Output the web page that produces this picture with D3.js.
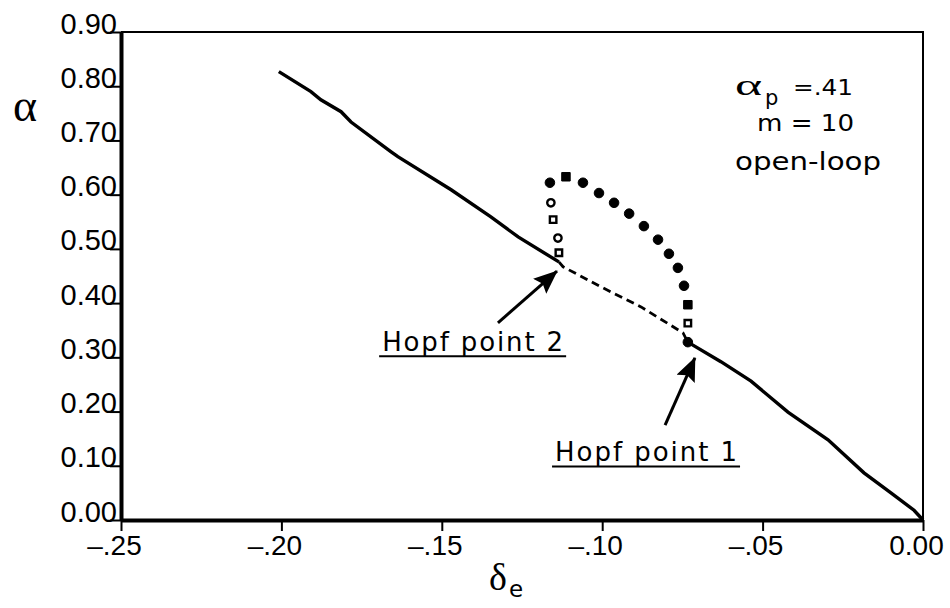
<!DOCTYPE html>
<html>
<head>
<meta charset="utf-8">
<script src="https://cdn.jsdelivr.net/npm/d3@7"></script>
<style>
  body { margin: 0; background: #fff; }
  .tick text { font-family: "Liberation Sans", Arial, sans-serif; fill: #000; }
  .note { font-family: "DejaVu Sans", sans-serif; fill: #000; }
</style>
</head>
<body>
<script>
//chart data
var xTicks = [-0.25, -0.20, -0.15, -0.10, -0.05, 0.00];
var xTickLabels = ["\u2013.25", "\u2013.20", "\u2013.15", "\u2013.10", "\u2013.05", "0.00"];
var yTicks = [0, 0.1, 0.2, 0.3, 0.4, 0.5, 0.6, 0.7, 0.8, 0.9];
var yTickLabels = ["0.00", "0.10", "0.20", "0.30", "0.40", "0.50", "0.60", "0.70", "0.80", "0.90"];

//stable equilibrium branch, left of Hopf point 2
var stableLeftX = [-0.2008, -0.1908, -0.1877, -0.1814, -0.1783, -0.1658, -0.1637, -0.1471, -0.1347, -0.1262, -0.1135];
var stableLeftY = [0.827, 0.790, 0.775, 0.753, 0.734, 0.679, 0.670, 0.609, 0.559, 0.522, 0.476];

//unstable equilibrium branch between the Hopf points
var unstableX = [-0.1135, -0.1122, -0.1004, -0.0879, -0.0748, -0.0733];
var unstableY = [0.476, 0.467, 0.430, 0.393, 0.345, 0.328];

//stable equilibrium branch, right of Hopf point 1
var stableRightX = [-0.0733, -0.0630, -0.0536, -0.0421, -0.0296, -0.0184, -0.0100, -0.0028, 0.0];
var stableRightY = [0.328, 0.292, 0.256, 0.199, 0.148, 0.087, 0.050, 0.018, 0.0];

//periodic orbit amplitudes (open = unstable, filled = stable)
var orbitX = [-0.1135, -0.1138, -0.1153, -0.1160, -0.1163, -0.1113, -0.1060, -0.1010, -0.0963, -0.0916, -0.0870, -0.0826, -0.0792, -0.0764, -0.0745, -0.0733, -0.0733, -0.0733];
var orbitY = [0.493, 0.520, 0.554, 0.585, 0.622, 0.633, 0.622, 0.603, 0.585, 0.565, 0.542, 0.517, 0.491, 0.465, 0.432, 0.397, 0.363, 0.328];
var orbitFilled = [false, false, false, false, true, true, true, true, true, true, true, true, true, true, true, true, false, true];
var orbitShape = ["s", "c", "s", "c", "c", "s", "c", "c", "c", "c", "c", "c", "c", "c", "c", "s", "s", "c"];

var width = 950, height = 608;
var x = d3.scaleLinear().domain([-0.25, 0]).range([121, 923]);
var y = d3.scaleLinear().domain([0, 0.9]).range([520, 32]);

var svg = d3.select("body").append("svg")
  .attr("width", width)
  .attr("height", height);

//arrowhead marker
svg.append("defs").append("marker")
  .attr("id", "head")
  .attr("markerUnits", "userSpaceOnUse")
  .attr("viewBox", "0 0 24 20")
  .attr("refX", 23)
  .attr("refY", 10)
  .attr("markerWidth", 24)
  .attr("markerHeight", 20)
  .attr("orient", "auto")
  .append("path")
  .attr("d", "M0,0 L24,10 L0,20 L4,10 Z")
  .attr("fill", "#000");

//thin top and right frame
svg.append("path")
  .attr("d", "M" + x(-0.25) + "," + y(0.9) + "H" + x(0) + "V" + y(0))
  .attr("fill", "none")
  .attr("stroke", "#000")
  .attr("stroke-width", 2);

//axes
var xAxis = svg.append("g")
  .attr("transform", "translate(0," + y(0) + ")")
  .call(d3.axisBottom(x).tickValues(xTicks).tickSize(11).tickSizeOuter(0)
    .tickFormat(function(d, i) { return xTickLabels[i]; }));
xAxis.select(".domain").attr("stroke-width", 4);
xAxis.selectAll(".tick line").attr("stroke-width", 2);
xAxis.selectAll(".tick text")
  .attr("y", 35).attr("dy", 0).attr("dx", -7)
  .attr("font-size", 28);

var yAxis = svg.append("g")
  .attr("transform", "translate(" + x(-0.25) + ",0)")
  .call(d3.axisLeft(y).tickValues(yTicks).tickSize(11).tickSizeOuter(0)
    .tickFormat(function(d, i) { return yTickLabels[i]; }));
yAxis.select(".domain").attr("stroke-width", 4);
yAxis.selectAll(".tick line").attr("stroke-width", 2);
yAxis.selectAll(".tick text")
  .attr("x", -4).attr("dy", 1)
  .attr("font-size", 29);

//axis titles
svg.append("text")
  .attr("x", 13).attr("y", 121)
  .attr("font-family", "Liberation Serif, serif")
  .attr("font-size", 46)
  .text("\u03b1");

var xt = svg.append("text")
  .attr("x", 489).attr("y", 590)
  .attr("font-family", "Liberation Serif, serif")
  .attr("font-size", 38)
  .text("\u03b4");
xt.append("tspan")
  .attr("dy", 7).attr("dx", 2)
  .attr("font-family", "DejaVu Sans, sans-serif")
  .attr("font-size", 23)
  .text("e");

//equilibrium branches
var line = d3.line()
  .x(function(d) { return x(d[0]); })
  .y(function(d) { return y(d[1]); });

function pairs(xs, ys) {
  return xs.map(function(v, i) { return [v, ys[i]]; });
}

svg.append("path")
  .datum(pairs(stableLeftX, stableLeftY))
  .attr("d", line)
  .attr("fill", "none").attr("stroke", "#000").attr("stroke-width", 3.4);

svg.append("path")
  .datum(pairs(stableRightX, stableRightY))
  .attr("d", line)
  .attr("fill", "none").attr("stroke", "#000").attr("stroke-width", 3.4);

svg.append("path")
  .datum(pairs(unstableX, unstableY))
  .attr("d", line)
  .attr("fill", "none").attr("stroke", "#000").attr("stroke-width", 2.8)
  .attr("stroke-dasharray", "8,5");

//periodic orbit symbols
var orbit = pairs(orbitX, orbitY).map(function(p, i) {
  return { x: p[0], y: p[1], filled: orbitFilled[i], shape: orbitShape[i] };
});

svg.selectAll(".orbit")
  .data(orbit)
  .enter()
  .append("path")
  .attr("class", "orbit")
  .attr("transform", function(d) { return "translate(" + x(d.x) + "," + y(d.y) + ")"; })
  .attr("d", function(d) {
    var size = d.filled ? 72 : 42;
    return d3.symbol().type(d.shape == "s" ? d3.symbolSquare : d3.symbolCircle).size(size)();
  })
  .attr("fill", function(d) { return d.filled ? "#000" : "#fff"; })
  .attr("stroke", "#000")
  .attr("stroke-width", function(d) { return d.filled ? 1 : 2.4; });

//Hopf point arrows
var arrows = [
  { from: [-0.1325, 0.3635], to: [-0.1141, 0.459] },
  { from: [-0.0804, 0.175], to: [-0.0711, 0.299] }
];
svg.selectAll(".arrow")
  .data(arrows)
  .enter()
  .append("line")
  .attr("class", "arrow")
  .attr("x1", function(d) { return x(d.from[0]); })
  .attr("y1", function(d) { return y(d.from[1]); })
  .attr("x2", function(d) { return x(d.to[0]); })
  .attr("y2", function(d) { return y(d.to[1]); })
  .attr("stroke", "#000")
  .attr("stroke-width", 3)
  .attr("marker-end", "url(#head)");

//underlined Hopf labels
var labels = [
  { text: "Hopf  point  2", x: -0.1686, y: 0.311, len: 181 },
  { text: "Hopf  point  1", x: -0.1147, y: 0.108, len: 182 }
];
labels.forEach(function(l) {
  svg.append("text")
    .attr("class", "note")
    .attr("x", x(l.x)).attr("y", y(l.y))
    .attr("font-size", 26)
    .attr("textLength", l.len)
    .attr("lengthAdjust", "spacing")
    .text(l.text);
  svg.append("line")
    .attr("x1", x(l.x) - 3).attr("x2", x(l.x) + l.len + 3)
    .attr("y1", y(l.y) + 5).attr("y2", y(l.y) + 5)
    .attr("stroke", "#000").attr("stroke-width", 2);
});

//parameter box text
svg.append("text")
  .attr("x", 735).attr("y", 95)
  .attr("font-family", "Liberation Serif, serif")
  .attr("font-size", 30)
  .attr("textLength", 27)
  .attr("lengthAdjust", "spacingAndGlyphs")
  .text("\u03b1");
svg.append("text")
  .attr("class", "note")
  .attr("x", 765).attr("y", 105)
  .attr("font-size", 21)
  .text("p");
svg.append("text")
  .attr("class", "note")
  .attr("x", 793).attr("y", 95)
  .attr("font-size", 22)
  .attr("textLength", 60)
  .attr("lengthAdjust", "spacingAndGlyphs")
  .text("=.41");

svg.append("text")
  .attr("class", "note")
  .attr("x", 757).attr("y", 131)
  .attr("font-size", 23)
  .attr("textLength", 97)
  .attr("lengthAdjust", "spacingAndGlyphs")
  .text("m = 10");

svg.append("text")
  .attr("class", "note")
  .attr("x", 735).attr("y", 170)
  .attr("font-size", 24)
  .attr("textLength", 146)
  .attr("lengthAdjust", "spacingAndGlyphs")
  .text("open-loop");
</script>
</body>
</html>
